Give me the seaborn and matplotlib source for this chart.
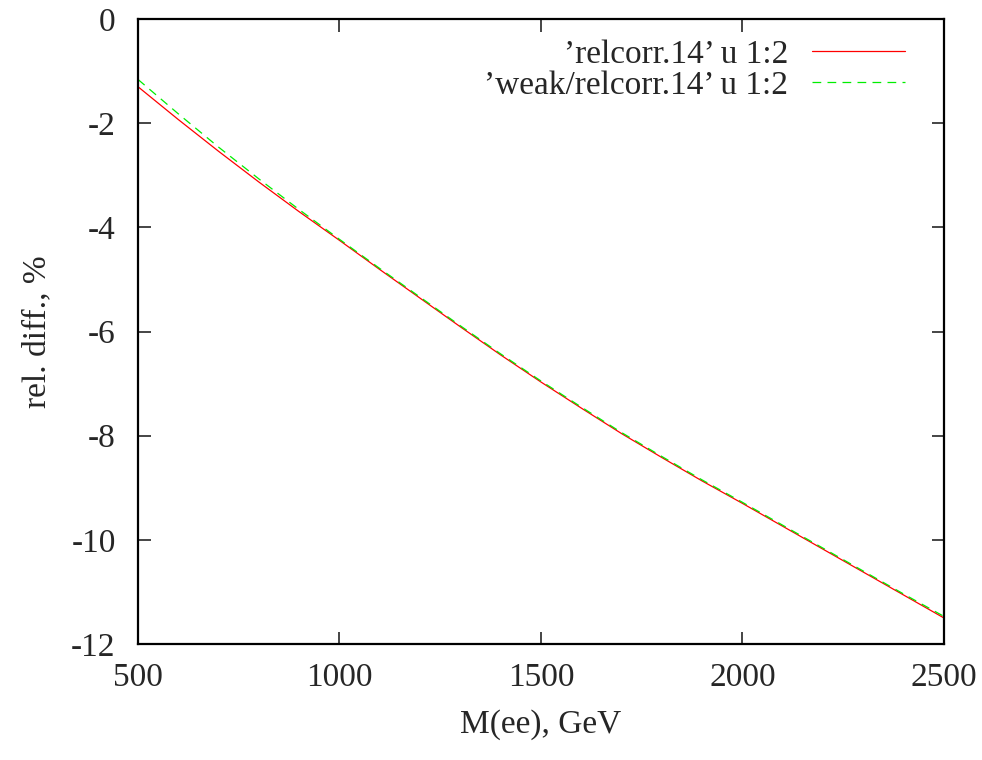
import pandas as pd
import matplotlib.pyplot as plt
import seaborn as sns
import numpy as np

sns.set_style("ticks")
plt.rcParams['font.family'] = ['Liberation Serif', 'DejaVu Serif']
plt.rcParams['font.size'] = 24
plt.rcParams['axes.unicode_minus'] = False

# values (M(ee) in GeV, rel. diff in %)
mass = [500, 600, 700, 800, 900, 1000, 1100, 1200, 1300, 1400, 1500,
        1600, 1700, 1800, 1900, 2000, 2100, 2200, 2300, 2400, 2500]
relcorr = [-1.30, -1.93, -2.54, -3.13, -3.70, -4.25, -4.81, -5.36, -5.91, -6.45, -6.97,
           -7.47, -7.96, -8.42, -8.87, -9.30, -9.74, -10.18, -10.62, -11.06, -11.50]
weak_relcorr = [-1.16, -1.82, -2.46, -3.07, -3.66, -4.23, -4.79, -5.34, -5.89, -6.43, -6.95,
                -7.45, -7.94, -8.40, -8.85, -9.28, -9.72, -10.16, -10.60, -11.04, -11.47]

label_a = "\u2019relcorr.14\u2019 u 1:2"
label_b = "\u2019weak/relcorr.14\u2019 u 1:2"

df = pd.DataFrame({"mass": mass + mass,
                   "diff": relcorr + weak_relcorr,
                   "series": [label_a] * len(mass) + [label_b] * len(mass)})

fig = plt.figure(figsize=(9.82, 7.6), dpi=100)
ax = fig.add_axes([0.1405, 0.1526, 0.8208, 0.8224])

sns.lineplot(data=df, x="mass", y="diff", hue="series", style="series",
             palette={label_a: "#ff0000", label_b: "#00ee00"},
             dashes={label_a: "", label_b: (7, 5)},
             linewidth=0.9, ax=ax)

ax.set_xlim(500, 2500)
ax.set_ylim(-12, 0)
ax.set_xticks([500, 1000, 1500, 2000, 2500])
ax.set_yticks([-12, -10, -8, -6, -4, -2, 0])
ax.tick_params(direction="in", length=9, width=1.2, top=True, right=True,
               labelsize=24)
ax.tick_params(axis="y", pad=16)
ax.tick_params(axis="x", pad=13)
for s in ax.spines.values():
    s.set_visible(True)
    s.set_linewidth(1.6)
    s.set_color("black")

ax.set_xlabel("M(ee), GeV", fontsize=24, labelpad=12)
ax.set_ylabel("rel. diff., %", fontsize=24, labelpad=14)

handles, labels = ax.get_legend_handles_labels()
ax.legend(handles, labels, loc="upper right", frameon=False, markerfirst=False,
          bbox_to_anchor=(0.9216, 0.948), bbox_transform=fig.transFigure,
          borderpad=0, borderaxespad=0, labelspacing=0.0,
          handlelength=2.8, handletextpad=0.7, fontsize=24)

fig.savefig("out.png", dpi=100)
